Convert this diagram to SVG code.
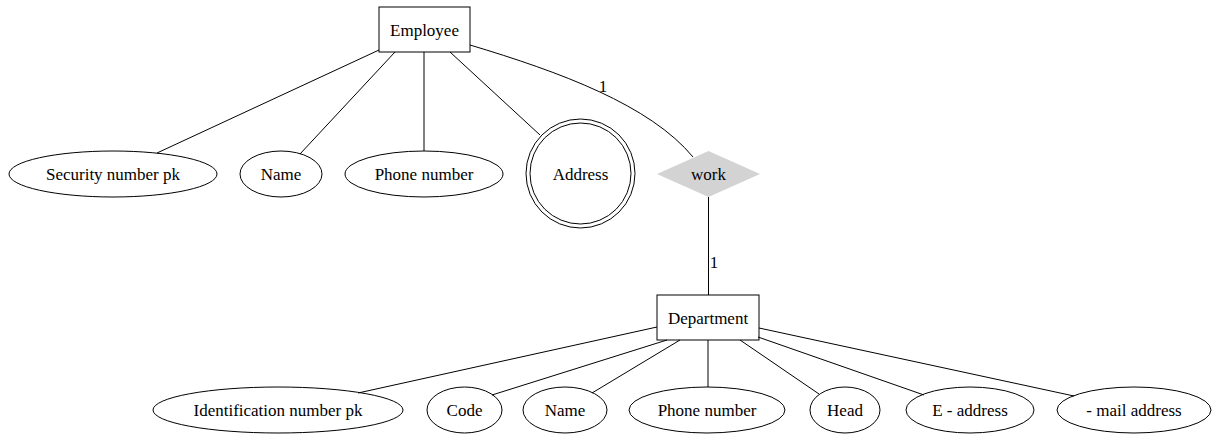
<svg xmlns="http://www.w3.org/2000/svg" width="1226" height="435" viewBox="0 0 1226 435">
  <style>
    text { font-family: "Liberation Serif", "Tinos", "Times New Roman", "DejaVu Serif", serif; font-size: 17px; fill: #000000; text-anchor: middle; }
    .shape { fill: none; stroke: #000; stroke-width: 1; }
    .edge { fill: none; stroke: #000; stroke-width: 1; }
    .rel { fill: #d3d3d3; stroke: none; }
  </style>
  <rect width="1226" height="435" fill="#fff"/>

  <!-- connectors -->
  <g id="edges">
    <path class="edge" d="M379,50 L157,153"/>
    <path class="edge" d="M395,52 L300,154"/>
    <path class="edge" d="M424,52 L424,151"/>
    <path class="edge" d="M450,52 L540,135"/>
    <path class="edge" d="M470,45 C560,72 650,105 693,157"/>
    <text x="603" y="92">1</text>
    <path class="edge" d="M708.5,197 L708.5,295"/>
    <text x="714" y="268">1</text>
    <path class="edge" d="M657,327 L358,393"/>
    <path class="edge" d="M667,340 L492,395"/>
    <path class="edge" d="M680,340 L592,393"/>
    <path class="edge" d="M708,340 L708,387"/>
    <path class="edge" d="M740,340 L819,394"/>
    <path class="edge" d="M758,337 L924,395"/>
    <path class="edge" d="M759,328 L1074,396"/>
  </g>

  <!-- entities -->
  <g id="employee">
    <rect class="shape" x="379" y="7" width="91" height="45"/>
    <text x="424.5" y="35.5">Employee</text>
  </g>
  <g id="department">
    <rect class="shape" x="657" y="295" width="102" height="45"/>
    <text x="708" y="323.5">Department</text>
  </g>

  <!-- relationship -->
  <g id="work">
    <polygon class="rel" points="708.5,151 760,174 708.5,197 657,174"/>
    <text x="708.5" y="180">work</text>
  </g>

  <!-- Employee attributes -->
  <g id="emp_security">
    <ellipse class="shape" cx="113" cy="174" rx="104" ry="23"/>
    <text x="113" y="180">Security number pk</text>
  </g>
  <g id="emp_name">
    <ellipse class="shape" cx="281" cy="174" rx="41" ry="23"/>
    <text x="281" y="180">Name</text>
  </g>
  <g id="emp_phone">
    <ellipse class="shape" cx="424" cy="174" rx="79" ry="23"/>
    <text x="424" y="180">Phone number</text>
  </g>
  <g id="emp_address">
    <circle class="shape" cx="580.5" cy="173.5" r="54.5"/>
    <circle class="shape" cx="580.5" cy="173.5" r="50.5"/>
    <text x="580.5" y="179.5">Address</text>
  </g>

  <!-- Department attributes -->
  <g id="dep_identification">
    <ellipse class="shape" cx="278" cy="410" rx="125" ry="23"/>
    <text x="278" y="416">Identification number pk</text>
  </g>
  <g id="dep_code">
    <ellipse class="shape" cx="464.5" cy="410" rx="37.5" ry="23"/>
    <text x="464.5" y="416">Code</text>
  </g>
  <g id="dep_name">
    <ellipse class="shape" cx="565" cy="410" rx="42" ry="23"/>
    <text x="565" y="416">Name</text>
  </g>
  <g id="dep_phone">
    <ellipse class="shape" cx="707" cy="410" rx="78" ry="23"/>
    <text x="707" y="416">Phone number</text>
  </g>
  <g id="dep_head">
    <ellipse class="shape" cx="845" cy="410" rx="35" ry="23"/>
    <text x="845" y="416">Head</text>
  </g>
  <g id="dep_eaddress">
    <ellipse class="shape" cx="970" cy="410" rx="64" ry="23"/>
    <text x="970" y="416">E - address</text>
  </g>
  <g id="dep_mail">
    <ellipse class="shape" cx="1134" cy="410" rx="77" ry="23"/>
    <text x="1134" y="416">- mail address</text>
  </g>
</svg>
